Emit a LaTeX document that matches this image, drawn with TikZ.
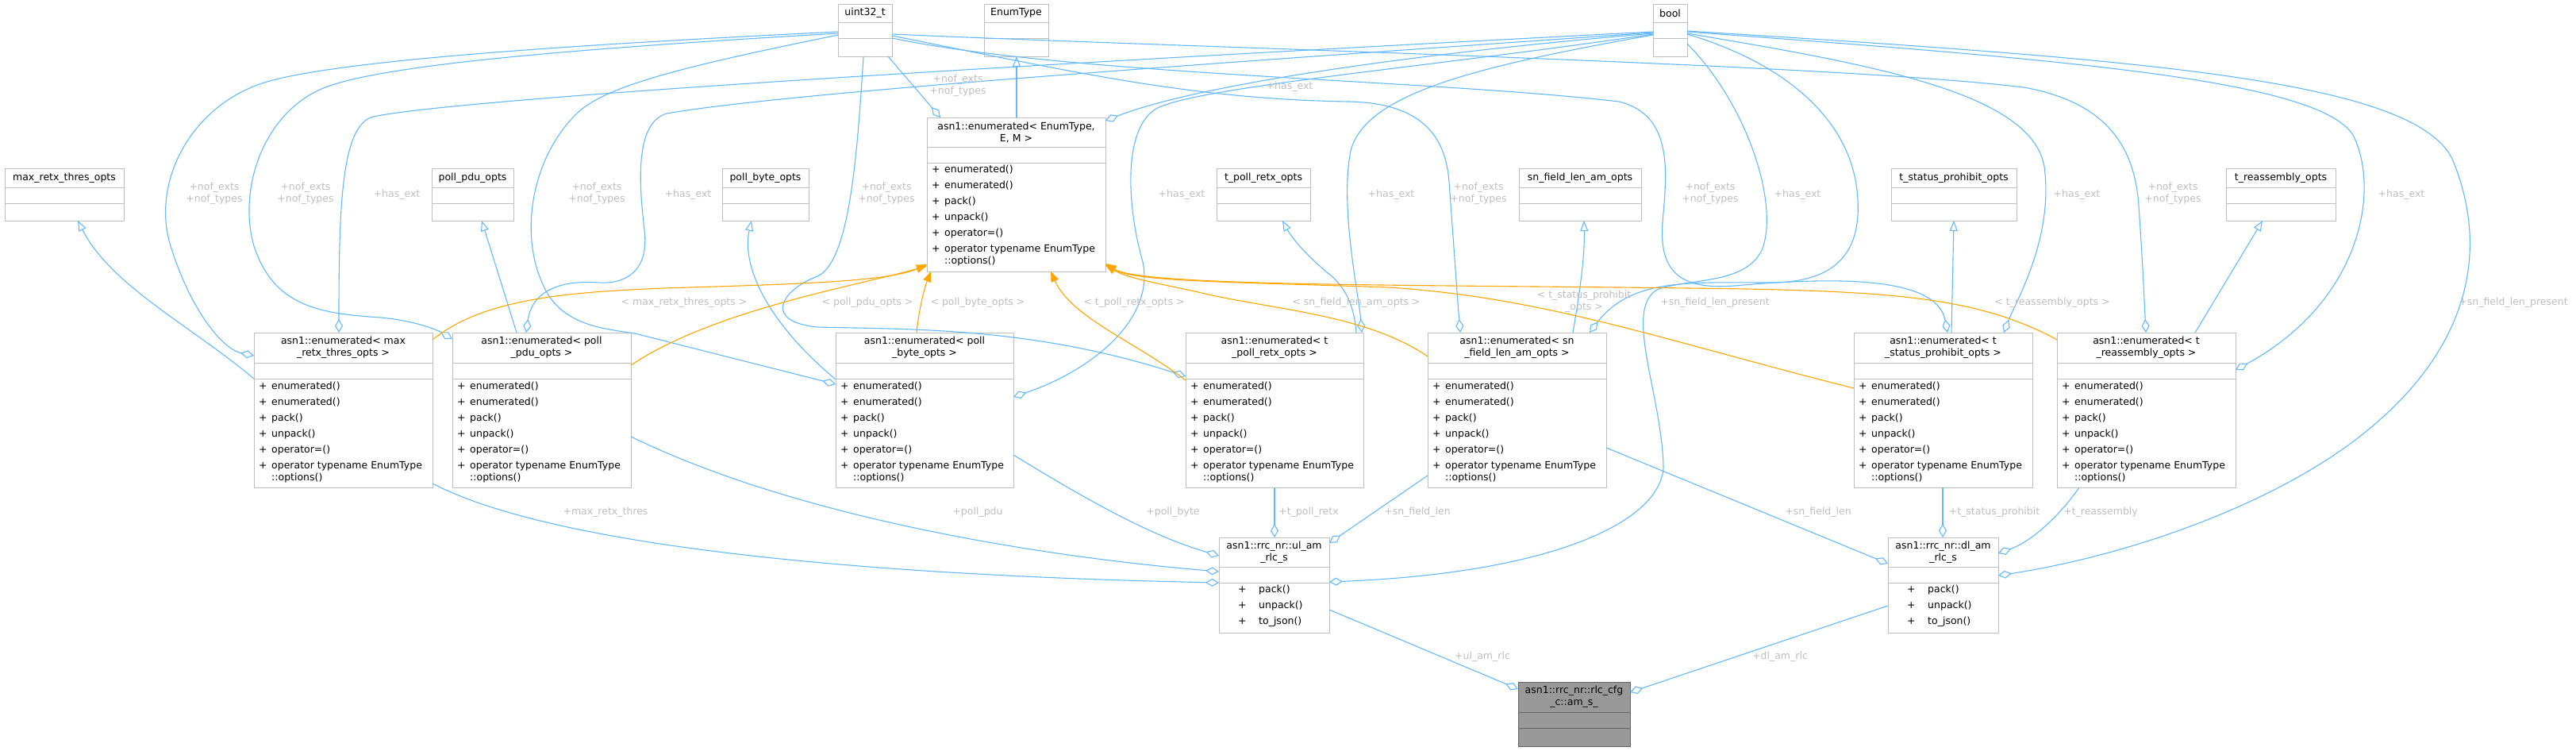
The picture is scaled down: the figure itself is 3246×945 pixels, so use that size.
\documentclass[tikz,border=0pt]{standalone}
\usepackage{fontspec}
\setmainfont{DejaVu Sans}
\usepackage{tikz}
\usetikzlibrary{arrows.meta,calc}
\definecolor{edgeblue}{HTML}{63B8FF}
\definecolor{tplorange}{HTML}{FFA500}
\definecolor{boxgray}{HTML}{BFBFBF}
\definecolor{labelgray}{HTML}{BEBEBE}
\definecolor{fillgray}{HTML}{999999}
\definecolor{darkline}{HTML}{666666}

% class box: [extra style] name, left, top, width, title height, total height, title
\newcommand{\umlbox}[8][]{%
  \node[classbox,#1, minimum width=#5pt, minimum height=#7pt] (#2) at (#3,-#4) {};
  \draw[boxline,#1] ([yshift=-#6pt]#2.north west) -- ([yshift=-#6pt]#2.north east);
  \draw[boxline,#1] ([yshift=-#6pt-20pt]#2.north west) -- ([yshift=-#6pt-20pt]#2.north east);
  \node[boxtitle] (#2-title) at ([yshift=-#6pt/2]#2.north) {#8};
}
\newcommand{\opsitem}[1]{\makebox[16pt][l]{+}#1}
\newcommand{\enumops}{\opsitem{enumerated()}\\\opsitem{enumerated()}\\\opsitem{pack()}\\\opsitem{unpack()}\\\opsitem{operator=()}\\\opsitem{operator typename EnumType}\\[-5pt]\hspace*{16pt}::options()}
\newcommand{\rlcops}{\makebox[26pt][l]{+}pack()\\\makebox[26pt][l]{+}unpack()\\\makebox[26pt][l]{+}to\_json()}

\begin{document}
\begin{tikzpicture}[x=1pt, y=1pt,
  classbox/.style={draw=boxgray, line width=1pt, fill=white, anchor=north west, inner sep=0pt, outer sep=0pt},
  boxline/.style={draw=boxgray, line width=1pt},
  boxtitle/.style={align=center, inner sep=0pt, font=\fontsize{12.5}{15}\selectfont},
  members/.style={anchor=north west, align=left, inner sep=0pt, font=\fontsize{12.5}{20}\selectfont},
  lbl/.style={align=center, inner sep=0pt, text=labelgray, font=\fontsize{12.5}{15}\selectfont},
  agg/.style={draw=edgeblue, line width=1.1pt, -{Diamond[open, length=17pt, width=10pt]}},
  inh/.style={draw=edgeblue, line width=1.1pt, -{Triangle[open, length=13pt, width=10pt]}},
  tpl/.style={draw=tplorange, line width=1.1pt, -{Triangle[length=13pt, width=10pt]}}]

\useasboundingbox (0,0) rectangle (3246,-945);

% top row
\umlbox{uint}{1056}{5}{68}{23}{66}{uint32\_t}
\umlbox{enumt}{1240}{5}{81}{23}{66}{EnumType}
\umlbox{boolt}{2083}{5}{43}{23}{66}{bool}

% option types
\umlbox{maxopts}{6}{212}{150}{24}{66}{max\_retx\_thres\_opts}
\umlbox{pduopts}{544}{212}{103}{24}{66}{poll\_pdu\_opts}
\umlbox{byteopts}{910}{212}{109}{24}{66}{poll\_byte\_opts}
\umlbox{retxopts}{1533}{212}{118}{24}{66}{t\_poll\_retx\_opts}
\umlbox{snopts}{1914}{212}{154}{24}{66}{sn\_field\_len\_am\_opts}
\umlbox{statopts}{2383}{212}{158}{24}{66}{t\_status\_prohibit\_opts}
\umlbox{reasopts}{2805}{212}{138}{24}{66}{t\_reassembly\_opts}

% template and its instances
\umlbox{enumtpl}{1168}{148}{225}{37}{194}{asn1::enumerated< EnumType,\\E, M >}
\node[members] (enumtpl-m) at ([shift={(6,-60)}]enumtpl.north west) {\enumops};
\umlbox{enummax}{320}{419}{225}{38}{195}{asn1::enumerated< max\\\_retx\_thres\_opts >}
\node[members] (enummax-m) at ([shift={(6,-62)}]enummax.north west) {\enumops};
\umlbox{enumpdu}{570}{419}{225}{38}{195}{asn1::enumerated< poll\\\_pdu\_opts >}
\node[members] (enumpdu-m) at ([shift={(6,-62)}]enumpdu.north west) {\enumops};
\umlbox{enumbyte}{1053}{419}{224}{38}{195}{asn1::enumerated< poll\\\_byte\_opts >}
\node[members] (enumbyte-m) at ([shift={(6,-62)}]enumbyte.north west) {\enumops};
\umlbox{enumretx}{1494}{419}{224}{38}{195}{asn1::enumerated< t\\\_poll\_retx\_opts >}
\node[members] (enumretx-m) at ([shift={(6,-62)}]enumretx.north west) {\enumops};
\umlbox{enumsn}{1799}{419}{225}{38}{195}{asn1::enumerated< sn\\\_field\_len\_am\_opts >}
\node[members] (enumsn-m) at ([shift={(6,-62)}]enumsn.north west) {\enumops};
\umlbox{enumstat}{2336}{419}{225}{38}{195}{asn1::enumerated< t\\\_status\_prohibit\_opts >}
\node[members] (enumstat-m) at ([shift={(6,-62)}]enumstat.north west) {\enumops};
\umlbox{enumreas}{2592}{419}{225}{38}{195}{asn1::enumerated< t\\\_reassembly\_opts >}
\node[members] (enumreas-m) at ([shift={(6,-62)}]enumreas.north west) {\enumops};

% rlc structs
\umlbox{ulam}{1536}{677}{139}{37}{120}{asn1::rrc\_nr::ul\_am\\\_rlc\_s}
\node[members] (ulam-m) at ([shift={(24,-60)}]ulam.north west) {\rlcops};
\umlbox{dlam}{2379}{677}{139}{37}{120}{asn1::rrc\_nr::dl\_am\\\_rlc\_s}
\node[members] (dlam-m) at ([shift={(24,-60)}]dlam.north west) {\rlcops};
\umlbox[fill=fillgray, draw=darkline]{amcfg}{1913}{859}{141}{38}{81}{asn1::rrc\_nr::rlc\_cfg\\\_c::am\_s\_}

% uint32_t members
\draw[agg] ([shift={(0,-35)}]uint.north west) .. controls (750,-55) and (420,-75) .. (330,-105) .. controls (240,-135) and (190,-230) .. (215,-310) .. controls (240,-390) and (280,-440) .. ([shift={(0,-29)}]enummax.north west);
\draw[agg] ([shift={(0,-37)}]uint.north west) .. controls (750,-60) and (480,-80) .. (405,-112) .. controls (330,-145) and (300,-240) .. (320,-310) .. controls (345,-385) and (400,-395) .. (480,-400) .. controls (530,-405) and (555,-418) .. ([shift={(0,-8)}]enumpdu.north west);
\draw[agg] ([shift={(0,-39)}]uint.north west) .. controls (880,-80) and (770,-105) .. (730,-140) .. controls (670,-195) and (650,-300) .. (690,-370) .. controls (715,-410) and (760,-414) .. (800,-420) -- ([shift={(0,-65)}]enumbyte.north west);
\draw[agg] ([shift={(63,-66)}]uint.north west) -- ([shift={(17,0)}]enumtpl.north west);
\draw[agg] ([shift={(32,-66)}]uint.north west) .. controls (1080,-200) and (1070,-330) .. (1030,-348) .. controls (985,-365) and (960,-405) .. (1030,-412) .. controls (1150,-415) and (1300,-412) .. ([shift={(0,-55)}]enumretx.north west);
\draw[agg] ([shift={(68,-40)}]uint.north west) .. controls (1350,-90) and (1500,-125) .. (1700,-128) .. controls (1790,-130) and (1822,-170) .. (1826,-230) .. controls (1832,-310) and (1836,-370) .. ([shift={(41,0)}]enumsn.north west);
\draw[agg] ([shift={(68,-43)}]uint.north west) .. controls (1350,-95) and (1800,-100) .. (2040,-128) .. controls (2110,-145) and (2100,-220) .. (2095,-280) .. controls (2090,-345) and (2120,-365) .. (2185,-360) .. controls (2300,-350) and (2440,-345) .. ([shift={(118,0)}]enumstat.north west);
\draw[agg] ([shift={(68,-38)}]uint.north west) .. controls (1500,-60) and (2300,-80) .. (2550,-110) .. controls (2650,-128) and (2690,-180) .. (2695,-260) .. controls (2700,-330) and (2702,-380) .. ([shift={(112,0)}]enumreas.north west);

% bool members
\draw[agg] ([shift={(0,-35)}]boolt.north west) .. controls (1500,-70) and (600,-120) .. (470,-147) .. controls (430,-158) and (427,-260) .. ([shift={(107,0)}]enummax.north west);
\draw[agg] ([shift={(0,-36)}]boolt.north west) .. controls (1600,-75) and (1000,-115) .. (840,-143) .. controls (800,-155) and (805,-230) .. (812,-290) .. controls (818,-340) and (790,-358) .. (755,-356) .. controls (700,-352) and (670,-370) .. ([shift={(93,0)}]enumpdu.north west);
\draw[agg] ([shift={(0,-37)}]boolt.north west) .. controls (1750,-70) and (1500,-110) .. ([shift={(225,-4)}]enumtpl.north west);
\draw[agg] ([shift={(0,-38)}]boolt.north west) .. controls (1800,-85) and (1500,-110) .. (1455,-138) .. controls (1415,-165) and (1420,-260) .. (1440,-330) .. controls (1455,-400) and (1380,-465) .. ([shift={(224,-81)}]enumbyte.north west);
\draw[agg] ([shift={(0,-39)}]boolt.north west) .. controls (1850,-85) and (1720,-120) .. (1702,-190) .. controls (1688,-260) and (1712,-370) .. ([shift={(222,0)}]enumretx.north west);
\draw[agg] ([shift={(43,-38)}]boolt.north west) .. controls (2250,-80) and (2330,-150) .. (2340,-240) .. controls (2350,-330) and (2300,-356) .. (2230,-356) .. controls (2130,-356) and (2055,-350) .. ([shift={(204,0)}]enumsn.north west);
\draw[agg] ([shift={(43,-50)}]boolt.north west) .. controls (2200,-130) and (2240,-250) .. (2222,-310) .. controls (2205,-360) and (2125,-350) .. (2088,-365) .. controls (2045,-390) and (2095,-500) .. (2096,-590) .. controls (2090,-660) and (1950,-722) .. ([shift={(139,-56)}]ulam.north west);
\draw[agg] ([shift={(43,-37)}]boolt.north west) .. controls (2350,-80) and (2560,-115) .. (2576,-210) .. controls (2588,-300) and (2540,-380) .. ([shift={(189,0)}]enumstat.north west);
\draw[agg] ([shift={(43,-35)}]boolt.north west) .. controls (2600,-75) and (2920,-100) .. (2965,-170) .. controls (3000,-240) and (2975,-380) .. ([shift={(225,-47)}]enumreas.north west);
\draw[agg] ([shift={(43,-34)}]boolt.north west) .. controls (2700,-75) and (3040,-100) .. (3090,-200) .. controls (3140,-320) and (3110,-450) .. (2960,-560) .. controls (2850,-640) and (2680,-700) .. ([shift={(139,-48)}]dlam.north west);

% inheritance
\draw[inh] ([shift={(0,-58)}]enummax.north west) .. controls (240,-410) and (140,-360) .. ([shift={(92,0)}]maxopts.south west);
\draw[inh] ([shift={(81,0)}]enumpdu.north west) -- ([shift={(63,0)}]pduopts.south west);
\draw[inh] ([shift={(0,-59)}]enumbyte.north west) .. controls (960,-400) and (935,-330) .. ([shift={(37,0)}]byteopts.south west);
\draw[inh] ([shift={(113,0)}]enumtpl.north west) -- ([shift={(41,0)}]enumt.south west);
\draw[inh] ([shift={(215,0)}]enumretx.north west) .. controls (1706,-380) and (1692,-358) .. (1672,-343) .. controls (1645,-320) and (1628,-300) .. ([shift={(83,0)}]retxopts.south west);
\draw[inh] ([shift={(183,0)}]enumsn.north west) .. controls (1992,-360) and (1997,-320) .. ([shift={(82,0)}]snopts.south west);
\draw[inh] ([shift={(123,0)}]enumstat.north west) -- ([shift={(79,0)}]statopts.south west);
\draw[inh] ([shift={(174,0)}]enumreas.north west) -- ([shift={(46,0)}]reasopts.south west);

% template instances
\draw[tpl] ([shift={(225,-9)}]enummax.north west) .. controls (610,-375) and (720,-368) .. (836,-363) .. controls (1000,-358) and (1120,-355) .. ([shift={(0,-185)}]enumtpl.north west);
\draw[tpl] ([shift={(225,-41)}]enumpdu.north west) .. controls (900,-390) and (1080,-360) .. ([shift={(0,-187)}]enumtpl.north west);
\draw[tpl] ([shift={(102,0)}]enumbyte.north west) .. controls (1158,-390) and (1164,-365) .. ([shift={(5,-194)}]enumtpl.north west);
\draw[tpl] ([shift={(0,-60)}]enumretx.north west) .. controls (1430,-430) and (1350,-400) .. ([shift={(156,-194)}]enumtpl.north west);
\draw[tpl] ([shift={(0,-30)}]enumsn.north west) .. controls (1720,-395) and (1600,-390) .. (1510,-368) .. controls (1450,-355) and (1420,-350) .. ([shift={(225,-186)}]enumtpl.north west);
\draw[tpl] ([shift={(0,-70)}]enumstat.north west) .. controls (2100,-430) and (1950,-375) .. (1750,-362) .. controls (1550,-355) and (1430,-355) .. ([shift={(225,-185)}]enumtpl.north west);
\draw[tpl] ([shift={(0,-9)}]enumreas.north west) .. controls (2500,-378) and (2400,-368) .. (2200,-364) .. controls (1800,-358) and (1440,-362) .. ([shift={(225,-184)}]enumtpl.north west);

% fields of the rlc structs
\draw[agg] ([shift={(225,-190)}]enummax.north west) .. controls (700,-690) and (1100,-725) .. ([shift={(0,-57)}]ulam.north west);
\draw[agg] ([shift={(225,-131)}]enumpdu.north west) .. controls (1000,-650) and (1300,-700) .. ([shift={(0,-43)}]ulam.north west);
\draw[agg] ([shift={(224,-154)}]enumbyte.north west) .. controls (1370,-630) and (1450,-675) .. ([shift={(0,-23)}]ulam.north west);
\draw[agg] ([shift={(112,0)}]enumretx.south west) -- ([shift={(70,0)}]ulam.north west);
\draw[agg] ([shift={(0,-180)}]enumsn.north west) -- ([shift={(139,-7)}]ulam.north west);
\draw[agg] ([shift={(225,-145)}]enumsn.north west) -- ([shift={(0,-33)}]dlam.north west);
\draw[agg] ([shift={(112,0)}]enumstat.south west) -- ([shift={(69,0)}]dlam.north west);
\draw[agg] ([shift={(28,0)}]enumreas.south west) .. controls (2595,-650) and (2560,-682) .. ([shift={(139,-20)}]dlam.north west);
\draw[agg] ([shift={(139,-91)}]ulam.north west) -- ([shift={(0,-9)}]amcfg.north west);
\draw[agg] ([shift={(0,-86)}]dlam.north west) -- ([shift={(141,-13)}]amcfg.north west);

% labels
\node[lbl] (l-nof-max) at (270,-244) {+nof\_exts\\+nof\_types};
\node[lbl] (l-nof-pdu) at (385,-244) {+nof\_exts\\+nof\_types};
\node[lbl] (l-nof-byte) at (752,-244) {+nof\_exts\\+nof\_types};
\node[lbl] (l-nof-retx) at (1117,-244) {+nof\_exts\\+nof\_types};
\node[lbl] (l-nof-tpl) at (1207,-108) {+nof\_exts\\+nof\_types};
\node[lbl] (l-nof-sn) at (1863,-244) {+nof\_exts\\+nof\_types};
\node[lbl] (l-nof-stat) at (2155,-244) {+nof\_exts\\+nof\_types};
\node[lbl] (l-nof-reas) at (2738,-244) {+nof\_exts\\+nof\_types};
\node[lbl] (l-ext-max) at (500,-245) {+has\_ext};
\node[lbl] (l-ext-pdu) at (867,-245) {+has\_ext};
\node[lbl] (l-ext-byte) at (1489,-245) {+has\_ext};
\node[lbl] (l-ext-tpl) at (1625,-109) {+has\_ext};
\node[lbl] (l-ext-retx) at (1753,-245) {+has\_ext};
\node[lbl] (l-ext-sn) at (2265,-245) {+has\_ext};
\node[lbl] (l-ext-stat) at (2617,-245) {+has\_ext};
\node[lbl] (l-ext-reas) at (3026,-245) {+has\_ext};
\node[lbl] (l-present-ul) at (2161,-381) {+sn\_field\_len\_present};
\node[lbl] (l-present-dl) at (3167,-381) {+sn\_field\_len\_present};
\node[lbl] (l-tpl-max) at (862,-381) {< max\_retx\_thres\_opts >};
\node[lbl] (l-tpl-pdu) at (1093,-381) {< poll\_pdu\_opts >};
\node[lbl] (l-tpl-byte) at (1232,-381) {< poll\_byte\_opts >};
\node[lbl] (l-tpl-retx) at (1429,-381) {< t\_poll\_retx\_opts >};
\node[lbl] (l-tpl-sn) at (1709,-381) {< sn\_field\_len\_am\_opts >};
\node[lbl] (l-tpl-stat) at (1996,-380) {< t\_status\_prohibit\\\_opts >};
\node[lbl] (l-tpl-reas) at (2586,-381) {< t\_reassembly\_opts >};
\node[lbl] (l-maxretx) at (763,-645) {+max\_retx\_thres};
\node[lbl] (l-pollpdu) at (1232,-645) {+poll\_pdu};
\node[lbl] (l-pollbyte) at (1478,-645) {+poll\_byte};
\node[lbl] (l-pollretx) at (1649,-645) {+t\_poll\_retx};
\node[lbl] (l-snlen-ul) at (1786,-645) {+sn\_field\_len};
\node[lbl] (l-snlen-dl) at (2291,-645) {+sn\_field\_len};
\node[lbl] (l-status) at (2513,-645) {+t\_status\_prohibit};
\node[lbl] (l-reas) at (2647,-645) {+t\_reassembly};
\node[lbl] (l-ul) at (1868,-827) {+ul\_am\_rlc};
\node[lbl] (l-dl) at (2243,-827) {+dl\_am\_rlc};
\end{tikzpicture}
\end{document}
